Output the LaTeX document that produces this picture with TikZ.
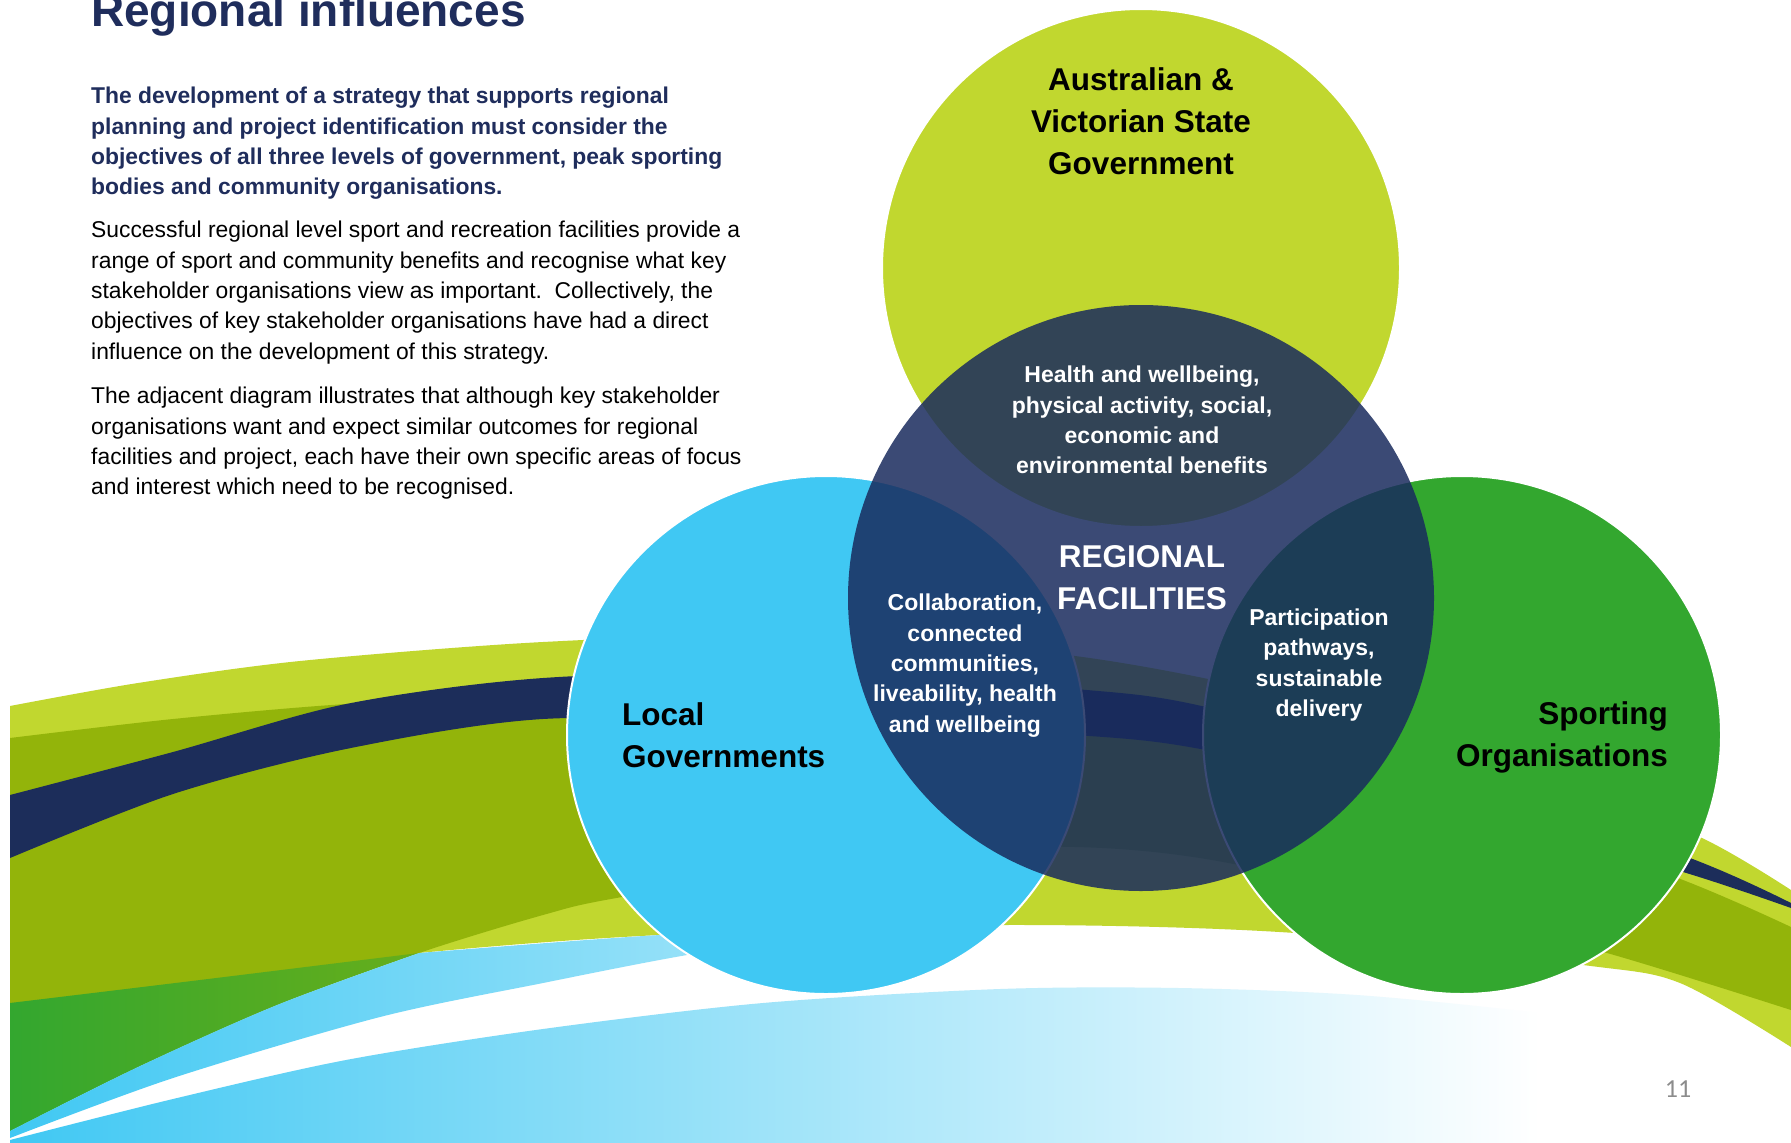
\documentclass[tikz,border=0pt]{standalone}
\usepackage{fontspec}
\setmainfont{Liberation Sans}
\newfontfamily\pagenumfont{Carlito}
\definecolor{swooshlime}{RGB}{193,215,47}
\definecolor{swoosholive}{RGB}{147,180,10}
\definecolor{swooshnavy}{RGB}{28,45,90}
\definecolor{leafgreen}{RGB}{51,167,47}
\definecolor{skycyan}{RGB}{64,200,243}
\definecolor{hubnavy}{RGB}{25,43,93}
\definecolor{titlenavy}{RGB}{31,45,92}
\definecolor{pagegray}{RGB}{140,140,140}
\begin{document}
\begin{tikzpicture}[x=1pt,y=-1pt,
  disc/.style={circle, inner sep=0pt, outer sep=0pt, minimum size=518pt, draw=white, line width=2pt},
  biglabel/.style={font=\fontsize{31.5}{42}\selectfont\bfseries, text=black, inner sep=0pt},
  hublabel/.style={font=\fontsize{31.5}{42}\selectfont\bfseries, text=white, inner sep=0pt, align=center},
  overlap/.style={font=\fontsize{23}{30.3}\selectfont\bfseries, text=white, inner sep=0pt, align=center},
  bodytext/.style={font=\fontsize{22.85}{30.3}\selectfont, text=black, inner sep=0pt, align=left, anchor=west},
  leadtext/.style={font=\fontsize{22.85}{30.3}\selectfont\bfseries, text=titlenavy, inner sep=0pt, align=left, anchor=west}]
\useasboundingbox (0,0) rectangle (1791,1143);
\clip (0,0) rectangle (1791,1143);
\fill[white] (0,0) rectangle (1791,1143);

% ---- background swooshes ----
% lime sweep
\fill[swooshlime] plot[smooth] coordinates {(10,706) (138,683) (300,661) (543,642) (800,635) (1075,656) (1300,700) (1550,777) (1702,838) (1791,890)}
  -- plot[smooth] coordinates {(1791,1047) (1680,983) (1583,965) (1295,933) (1004,925) (660,935) (419,953) (200,980) (10,1003)} -- cycle;
% olive sweep
\fill[swoosholive] plot[smooth] coordinates {(10,738) (173,719) (346,704) (543,695) (800,700) (1075,718) (1206,735) (1450,795) (1683,880) (1791,927)}
  -- plot[smooth] coordinates {(1791,1010) (1607,953) (1400,900) (1206,859) (1075,847) (900,852) (622,897) (543,915) (419,953) (277,1005) (138,1067) (10,1131)} -- cycle;
% green wedge, fading into the olive
\begin{scope}
  \clip plot[smooth] coordinates {(10,1003) (200,980) (419,953)}
    -- plot[smooth] coordinates {(419,953) (277,1005) (138,1067) (10,1131)} -- cycle;
  \shade[left color=leafgreen, right color=swoosholive] (10,940) rectangle (780,1140);
\end{scope}
% navy ribbon
\fill[swooshnavy] plot[smooth] coordinates {(10,795) (173,752) (346,704) (543,678) (800,672) (1075,689) (1206,707) (1450,775) (1690,858) (1791,903)}
  -- plot[smooth] coordinates {(1791,908) (1683,872) (1450,805) (1206,750) (1075,735) (800,722) (543,719) (346,749) (173,794) (10,858)} -- cycle;
% upper light-blue sweep
\begin{scope}
  \clip plot[smooth] coordinates {(10,1131) (138,1067) (277,1005) (419,953)}
    -- plot[smooth] coordinates {(419,953) (660,935) (860,928)}
    -- plot[smooth] coordinates {(860,928) (687,955) (543,983) (380,1017) (173,1078) (10,1138)} -- cycle;
  \shade[left color=skycyan, right color=white] (10,880) rectangle (1540,1143);
\end{scope}
% lower light-blue sweep
\begin{scope}
  \clip plot[smooth] coordinates {(10,1140) (173,1099) (346,1060) (543,1029) (763,1003) (1000,989) (1179,988) (1357,995) (1540,1013) (1791,1045)}
    -- (1791,1143) -- (10,1143) -- cycle;
  \shade[left color=skycyan, right color=white] (10,880) rectangle (1540,1143);
\end{scope}

% ---- stakeholder circles ----
\node[disc, fill=swooshlime] (fed) at (1141,268) {};
\node[disc, fill=skycyan] (local) at (826,735) {};
\node[disc, fill=leafgreen] (sport) at (1462,735) {};
\node[circle, inner sep=0pt, minimum size=586pt, fill=hubnavy, fill opacity=0.85] (hub) at (1141,598) {};

% ---- circle labels ----
\node[biglabel, align=center] (fedlabel) at (1141,121) {Australian \&\\Victorian State\\Government};
\node[biglabel, align=left, anchor=west] (locallabel) at (622,735) {Local\\Governments};
\node[biglabel, align=right, anchor=east] (sportlabel) at (1668,737.5) {Sporting\\Organisations};
\node[hublabel] (hublabeltext) at (1142,578) {REGIONAL\\FACILITIES};
\node[overlap] (topshared) at (1142,420) {Health and wellbeing,\\physical activity, social,\\economic and\\environmental benefits};
\node[overlap] (leftshared) at (965,665.5) {Collaboration,\\connected\\communities,\\liveability, health\\and wellbeing};
\node[overlap] (rightshared) at (1319,665) {Participation\\pathways,\\sustainable\\delivery};

% ---- text column ----
\node[anchor=base west, inner sep=0pt, font=\fontsize{46}{50}\selectfont\bfseries, text=titlenavy] (title) at (91,27) {Regional influences};
\node[leadtext] (lead) at (91,143.5) {The development of a strategy that supports regional\\planning and project identification must consider the\\objectives of all three levels of government, peak sporting\\bodies and community organisations.};
\node[bodytext] (parone) at (91,292.5) {Successful regional level sport and recreation facilities provide a\\range of sport and community benefits and recognise what key\\stakeholder organisations view as important.\ \ Collectively, the\\objectives of key stakeholder organisations have had a direct\\influence on the development of this strategy.};
\node[bodytext] (partwo) at (91,443.5) {The adjacent diagram illustrates that although key stakeholder\\organisations want and expect similar outcomes for regional\\facilities and project, each have their own specific areas of focus\\and interest which need to be recognised.};

\node[inner sep=0pt, font=\pagenumfont\fontsize{26}{30}\selectfont, text=pagegray] (pageno) at (1678,1089) {11};
\end{tikzpicture}
\end{document}
